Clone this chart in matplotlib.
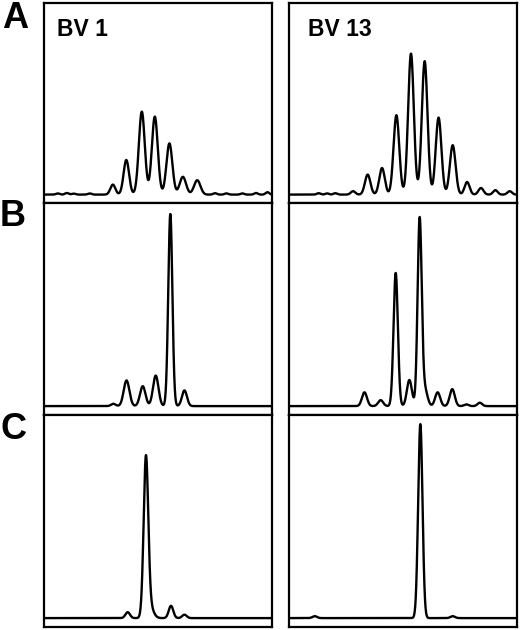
import numpy as np
import matplotlib
matplotlib.use("Agg")
import matplotlib.pyplot as plt

plt.rcParams['font.family'] = ['Liberation Sans', 'DejaVu Sans']

# Peak data per panel: positions (0-100 along the size axis), heights (% of panel), widths (sigma)
a1_pos = [6, 10, 13, 20, 30.2, 36.1, 42.9, 48.6, 55.0, 60.9, 67.2, 75, 80, 87, 93, 98]
a1_hgt = [0.6, 0.8, 0.5, 0.6, 5.0, 17.3, 41.5, 39.0, 25.6, 8.9, 7.2, 0.7, 0.6, 0.6, 0.8, 1.2]
a1_wid = [0.8, 0.8, 0.8, 0.8, 1.1, 1.2, 1.3, 1.3, 1.3, 1.4, 1.4, 0.8, 0.8, 0.8, 0.8, 0.8]

a2_pos = [13.0, 16.7, 20.3, 28.1, 34.5, 40.8, 47.1, 53.5, 59.5, 65.6, 71.8, 78.1, 84.2, 90.5, 96.8]
a2_hgt = [0.7, 0.6, 0.7, 1.7, 10.0, 13.3, 39.7, 70.5, 66.7, 38.5, 24.7, 6.3, 3.3, 2.2, 1.7]
a2_wid = [0.8, 0.8, 0.8, 1.0, 1.2, 1.2, 1.25, 1.25, 1.25, 1.25, 1.25, 1.1, 1.1, 1.0, 1.0]

b1_pos = [30.4, 36.2, 43.3, 49.0, 55.4, 61.6]
b1_hgt = [1.1, 12.1, 9.4, 14.4, 90.6, 7.4]
b1_wid = [1.0, 1.25, 1.2, 1.2, 0.9, 1.1]

b2_pos = [33.1, 40.2, 46.8, 52.8, 57.3, 59.5, 65.2, 71.6, 77.8, 83.7]
b2_hgt = [6.5, 2.8, 62.8, 12.3, 87.7, 8.0, 6.5, 8.0, 0.8, 1.6]
b2_wid = [1.1, 1.1, 0.95, 1.1, 0.9, 1.2, 1.1, 1.1, 1.0, 1.0]

c1_pos = [36.7, 44.7, 46.2, 55.7, 61.6]
c1_hgt = [2.8, 73.0, 6.0, 5.8, 1.6]
c1_wid = [1.0, 1.0, 1.6, 1.0, 1.0]

c2_pos = [11.3, 57.6, 71.8]
c2_hgt = [0.9, 91.5, 0.9]
c2_wid = [1.0, 0.95, 1.0]

column_titles = ["BV 1", "BV 13"]
row_labels = ["A", "B", "C"]

panels = [
    [(a1_pos, a1_hgt, a1_wid), (a2_pos, a2_hgt, a2_wid)],
    [(b1_pos, b1_hgt, b1_wid), (b2_pos, b2_hgt, b2_wid)],
    [(c1_pos, c1_hgt, c1_wid), (c2_pos, c2_hgt, c2_wid)],
]

W, H = 520, 630
fig = plt.figure(figsize=(W / 100, H / 100), dpi=100)

col_x = [44, 289]
col_w = 228
row_y = [(3, 203), (203, 415), (415, 627)]

x = np.linspace(0, 100, 3000)

for r, (top, bot) in enumerate(row_y):
    for c in range(2):
        ax = fig.add_axes([col_x[c] / W, (H - bot) / H, col_w / W, (bot - top) / H])
        pos, hgt, wid = panels[r][c]
        y = np.zeros_like(x)
        for p, h, s in zip(pos, hgt, wid):
            y += h * np.exp(-(x - p) ** 2 / (2 * s ** 2))
        ax.plot(x, y, color='black', lw=1.7, solid_joinstyle='round')
        ax.set_xlim(0, 100)
        ax.set_ylim(-4.2, 95.8)
        ax.set_xticks([])
        ax.set_yticks([])
        for sp in ax.spines.values():
            sp.set_linewidth(1.6)
            sp.set_color('black')
        if r == 0:
            tx = 0.057 if c == 0 else 0.083
            ax.text(tx, 0.865, column_titles[c], transform=ax.transAxes,
                    fontsize=16.5, fontweight='bold', ha='left', va='center')

label_pos = [(15, 19), (13, 216.5), (14, 429.5)]
for lab, (lx, ly) in zip(row_labels, label_pos):
    fig.text(lx / W, (H - ly) / H, lab, fontsize=26, fontweight='bold',
             ha='center', va='center')

fig.savefig("out.png", dpi=100)
